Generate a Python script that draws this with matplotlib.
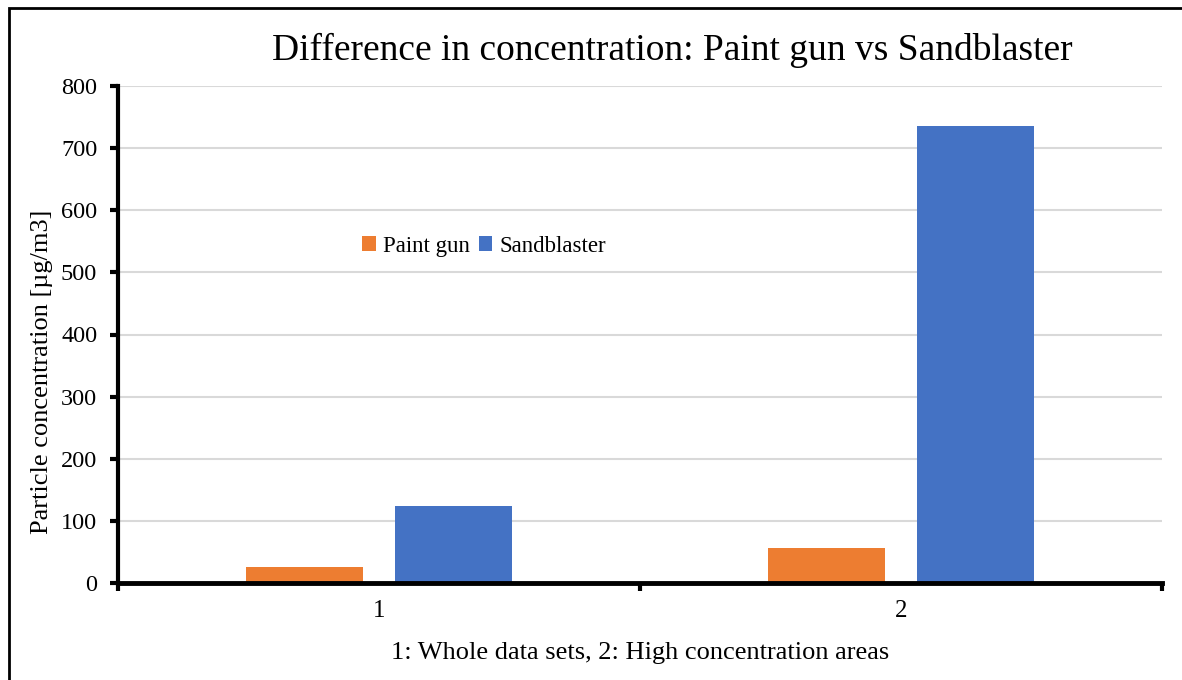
import matplotlib.pyplot as plt
import numpy as np
from matplotlib.patches import Rectangle

plt.rcParams['font.family'] = ['Liberation Serif', 'DejaVu Serif']

categories = ['1', '2']
paint_gun = [25.5, 56]
sandblaster = [123.5, 736]
series_names = ['Paint gun', 'Sandblaster']
colors = ['#ED7D31', '#4472C4']

fig = plt.figure(figsize=(11.82, 6.8), dpi=100)
ax = fig.add_axes([118 / 1182, 1 - 583 / 680, 1044 / 1182, 497 / 680])

x = np.arange(len(categories))
w = 0.225
ax.bar(x - 0.143, paint_gun, w, color=colors[0], label=series_names[0], zorder=3)
ax.bar(x + 0.143, sandblaster, w, color=colors[1], label=series_names[1], zorder=3)

ax.set_xlim(-0.5, 1.5)
ax.set_ylim(0, 800)
ax.set_yticks(np.arange(0, 801, 100))
ax.yaxis.grid(True, color='#d9d9d9', linewidth=1.5, zorder=0)
ax.set_axisbelow(True)

# category labels centered, ticks between categories
ax.set_xticks([-0.5, 0.5, 1.5])
ax.set_xticklabels([])
ax.set_xticks(x, minor=True)
ax.set_xticklabels(categories, minor=True)
ax.tick_params(axis='x', which='minor', length=0, labelsize=18, pad=12)
ax.tick_params(axis='x', which='major', length=6, width=3, direction='out')
ax.tick_params(axis='y', length=6, width=3, direction='out', labelsize=17.5, pad=9)

for s in ['top', 'right']:
    ax.spines[s].set_visible(False)
ax.spines['left'].set_linewidth(3)
ax.spines['bottom'].set_linewidth(3.5)
ax.spines['bottom'].set_zorder(4)

ax.set_ylabel('Particle concentration [µg/m3]', fontsize=19, labelpad=4)
ax.yaxis.set_label_coords(53 / 1182, 1 - 372 / 680, transform=fig.transFigure)
ax.set_xlabel('1: Whole data sets, 2: High concentration areas', fontsize=19, labelpad=15)

fig.text(672 / 1182, 1 - 50 / 680, 'Difference in concentration: Paint gun vs Sandblaster',
         ha='center', va='center', fontsize=27)

ax.legend(loc='center', bbox_to_anchor=(484 / 1182, 1 - 246 / 680),
          bbox_transform=fig.transFigure, frameon=False, ncol=2, fontsize=16.5,
          handlelength=0.6, handleheight=0.6, handletextpad=0.3, columnspacing=0.4)

# outer frame (cut at right/bottom in the reference)
fig.patches.append(Rectangle((9 / 1182, -0.05), 1.2, 1 - 8 / 680 + 0.05,
                             transform=fig.transFigure, fill=False,
                             edgecolor='black', linewidth=2))

fig.savefig('out.png', dpi=100)
